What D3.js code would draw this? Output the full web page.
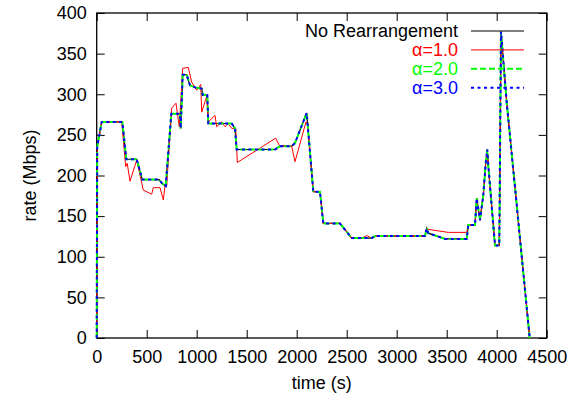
<!DOCTYPE html>
<html>
<head>
<meta charset="utf-8">
<script src="https://cdn.jsdelivr.net/npm/d3@7"></script>
<style>
  body { margin: 0; background: #fff; }
  text { font-family: "Liberation Sans", Arial, sans-serif; }
</style>
</head>
<body>
<div id="chart"></div>
<script>
// [time (s), rate (Mbps)]
const noRearrangement = [
  [0,0],[5,235],[50,266],[256,266],[296,220],[400,220],[456,195],[623,195],[656,190],[690,187],
  [746,276],[833,276],[840,258],[860,324],[900,324],[933,311],[993,308],[1050,307],[1060,299],[1106,299],
  [1116,264],[1350,264],[1383,258],[1400,232],[1783,232],[1833,236],[1950,236],[1983,240],[2100,277],[2166,180],
  [2233,180],[2266,141],[2433,141],[2550,123],[2750,123],[2783,125.5],[3283,125.5],[3300,135],[3316,129],[3483,122],
  [3700,122],[3716,139],[3783,139],[3800,172],[3833,145],[3866,176],[3890,215],[3906,232],[3916,212],[3983,114],
  [4026,114],[4043,377],[4100,290],[4330,0]
];
const alpha1 = [
  [0,0],[5,235],[50,266],[250,266],[290,211],[305,215],[333,193],[400,219],[466,182],[550,177],
  [566,185],[633,185],[666,170],[683,187],[700,187],[750,283],[793,289],[806,277],[826,260],[860,332],
  [916,333],[950,315],[1000,305],[1040,312],[1050,278],[1083,291],[1100,297],[1116,266],[1183,274],[1200,260],
  [1250,266],[1283,260],[1316,264],[1350,258],[1390,258],[1406,216],[1790,246],[1826,237],[1950,236],[1983,217],
  [2093,266],[2110,262],[2166,180],[2233,180],[2266,141],[2433,141],[2550,123],[2650,123],[2700,126],[2750,123],
  [2783,125.5],[3283,125.5],[3300,134],[3516,130],[3700,130],[3716,139],[3783,139],[3800,172],[3833,145],[3866,176],
  [3890,215],[3906,232],[3916,212],[3983,114],[4026,114],[4043,377],[4100,290],[4330,0]
];
// alpha=2.0 and alpha=3.0 lie on top of the no-rearrangement curve
const alpha2 = noRearrangement;
const alpha3 = noRearrangement;

const xTicks = [0,500,1000,1500,2000,2500,3000,3500,4000,4500];
const yTicks = [0,50,100,150,200,250,300,350,400];

const seriesNames = ["No Rearrangement", "\u03b1=1.0", "\u03b1=2.0", "\u03b1=3.0"];
const seriesData = [noRearrangement, alpha1, alpha2, alpha3];

const width = 582, height = 400;
const margin = {top: 13, right: 35.3, bottom: 62, left: 96.7};
const fontSize = "18px";
const styles = [
  {color: "#000000", width: 1.2, dash: null},
  {color: "#ff0000", width: 1, dash: null},
  {color: "#00ff00", width: 2, dash: "6,3"},
  {color: "#0000ff", width: 2, dash: "3,3.5"}
];

const svg = d3.select("#chart").append("svg")
  .attr("width", width)
  .attr("height", height);

const x = d3.scaleLinear().domain([0, 4500]).range([margin.left, width - margin.right]);
const y = d3.scaleLinear().domain([0, 400]).range([height - margin.bottom, margin.top]);

const line = d3.line()
  .x(d => x(d[0]))
  .y(d => y(d[1]));

// axes with inward ticks, mirrored on top/right
svg.append("g")
  .attr("transform", "translate(0," + y(0) + ")")
  .call(d3.axisBottom(x).tickValues(xTicks).tickSize(-8).tickPadding(12).tickFormat(d3.format("d")))
  .call(g => g.select(".domain").remove());
svg.append("g")
  .attr("transform", "translate(0," + y(400) + ")")
  .call(d3.axisTop(x).tickValues(xTicks).tickSize(-8).tickFormat(""))
  .call(g => g.select(".domain").remove());
svg.append("g")
  .attr("transform", "translate(" + x(0) + ",0)")
  .call(d3.axisLeft(y).tickValues(yTicks).tickSize(-8).tickPadding(10).tickFormat(d3.format("d")))
  .call(g => g.select(".domain").remove());
svg.append("g")
  .attr("transform", "translate(" + x(4500) + ",0)")
  .call(d3.axisRight(y).tickValues(yTicks).tickSize(-8).tickFormat(""))
  .call(g => g.select(".domain").remove());

svg.selectAll(".tick line").attr("stroke", "#000").attr("stroke-width", 1);
svg.selectAll(".tick text").attr("fill", "#000").style("font-size", fontSize);

svg.append("rect")
  .attr("x", x(0))
  .attr("y", y(400))
  .attr("width", x(4500) - x(0))
  .attr("height", y(0) - y(400))
  .attr("fill", "none")
  .attr("stroke", "#000")
  .attr("stroke-width", 1.3);

// curves
svg.append("g").selectAll("path")
  .data(seriesData)
  .enter().append("path")
  .attr("d", line)
  .attr("fill", "none")
  .attr("stroke", (d, i) => styles[i].color)
  .attr("stroke-width", (d, i) => styles[i].width)
  .attr("stroke-dasharray", (d, i) => styles[i].dash)
  .attr("stroke-linejoin", "miter");

// legend
const legend = svg.append("g");
seriesNames.forEach((name, i) => {
  const ly = 31 + i * 18.9;
  legend.append("text")
    .attr("x", 458)
    .attr("y", ly)
    .attr("dy", "0.35em")
    .attr("text-anchor", "end")
    .attr("fill", styles[i].color)
    .style("font-size", fontSize)
    .text(name);
  legend.append("line")
    .attr("x1", 471).attr("x2", 524)
    .attr("y1", ly).attr("y2", ly)
    .attr("stroke", styles[i].color)
    .attr("stroke-width", styles[i].width)
    .attr("stroke-dasharray", styles[i].dash);
});

// axis titles
svg.append("text")
  .attr("x", (x(0) + x(4500)) / 2)
  .attr("y", 389)
  .attr("text-anchor", "middle")
  .style("font-size", fontSize)
  .text("time (s)");
svg.append("text")
  .attr("transform", "translate(30," + (y(0) + y(400)) / 2 + ") rotate(-90)")
  .attr("dy", "0.35em")
  .attr("text-anchor", "middle")
  .style("font-size", fontSize)
  .text("rate (Mbps)");
</script>
</body>
</html>
